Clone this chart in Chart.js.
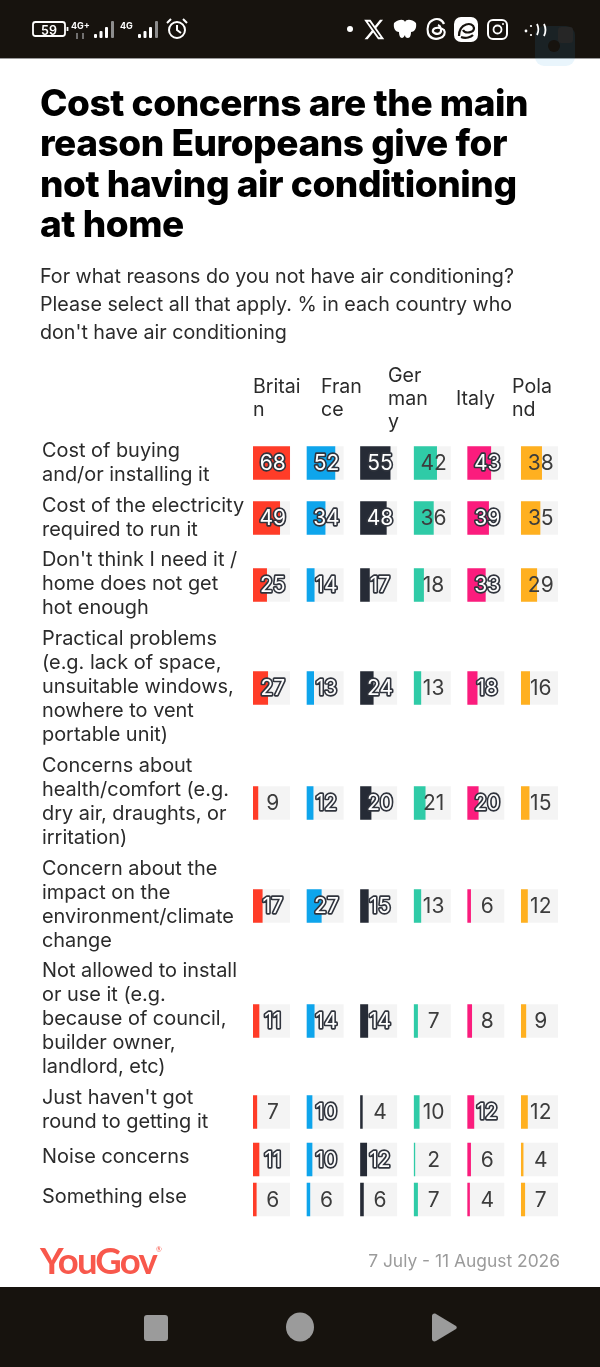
<!DOCTYPE html>
<html><head><meta charset="utf-8">
<script src="https://cdn.jsdelivr.net/npm/chart.js@4/dist/chart.umd.min.js"></script>
<style>
html,body{margin:0;padding:0;background:#fff;width:600px;height:1367px;overflow:hidden}
body{position:relative;font-family:Inter,sans-serif;color:#2b2b2b}
#c{position:absolute;left:0;top:0}
.abs{position:absolute}
#top{left:0;top:0;width:600px;height:58px;background:#17130e;border-bottom:1px solid #9a9a9a}
#bot{left:0;top:1287px;width:600px;height:80px;background:#17130e}
#title{left:40px;top:83px;width:550px;font:800 37px/40.3px Inter,sans-serif;color:#000;letter-spacing:-.45px;white-space:nowrap}
#sub{left:40px;top:262px;width:550px;font:400 19.7px/28px Inter,sans-serif;color:#2b2b2b;white-space:nowrap}
.hd{position:absolute;top:364px;height:68px;display:flex;flex-direction:column;justify-content:center;font:400 19.6px/23px Inter,sans-serif;color:#2b2b2b}
#logo{left:40px;top:1239px;font:700 36.5px/42px Lato,sans-serif;color:#f8584c;letter-spacing:-1.8px}
#logo sup{font:400 7px/7px Lato,sans-serif;vertical-align:22px;letter-spacing:0}
#date{right:40px;top:1250px;font:400 17.4px/22px Inter,sans-serif;color:#9b9b9b}
</style></head><body>
<div id="top" class="abs"></div>
<div id="bot" class="abs"></div>
<canvas id="c" width="600" height="1367" style="width:600px;height:1367px"></canvas>
<div id="title" class="abs">Cost concerns are the main<br>reason Europeans give for<br>not having air conditioning<br>at home</div>
<div id="sub" class="abs">For what reasons do you not have air conditioning?<br>Please select all that apply. % in each country who<br>don't have air conditioning</div>
<div id="heads"></div>
<div id="logo" class="abs">YouGov<sup>®</sup></div>
<div id="date" class="abs">7 July - 11 August 2026</div>
<svg class="abs" style="left:0;top:0" width="600" height="68" fill="none" stroke="#fff" stroke-width="1.8">
<rect x="535" y="26" width="40" height="40" rx="9" fill="#3aa0e0" opacity=".11" stroke="none"/>
<rect x="558" y="27" width="15" height="16" rx="3" fill="#262626" stroke="none"/>
<circle cx="554" cy="46" r="6" fill="#17130e" stroke="none"/>
<rect x="33" y="22" width="32" height="14" rx="2.5"/><path d="M67.5 27v4"/>
<text x="49" y="34.5" fill="#fff" stroke="none" font-family="Inter" font-size="12.5" font-weight="600" text-anchor="middle">59</text>
<text x="71" y="28.5" fill="#fff" stroke="none" font-family="Inter" font-size="9" font-weight="700">4G+</text>
<path d="M77 33v6M83 33v6" stroke="#888" stroke-width="1.6"/>
<text x="120" y="28.5" fill="#fff" stroke="none" font-family="Inter" font-size="9" font-weight="700">4G</text>
<g fill="#fff" stroke="none"><rect x="94" y="34" width="3" height="4" rx="1"/><rect x="99.5" y="31" width="3" height="7" rx="1"/><rect x="105" y="27" width="3" height="11" rx="1"/><rect x="111" y="21" width="3" height="17" rx="1" fill="#8d8d8d"/>
<rect x="138" y="34" width="3" height="4" rx="1"/><rect x="143.5" y="31" width="3" height="7" rx="1"/><rect x="149" y="27" width="3" height="11" rx="1"/><rect x="155" y="21" width="3" height="17" rx="1" fill="#8d8d8d"/></g>
<circle cx="177" cy="30" r="8" stroke-width="2"/><path d="M177 25v5l4 3M167 23l4-4M187 23l-4-4" stroke-width="2"/>
<circle cx="350" cy="29" r="3" fill="#fff" stroke="none"/>
<path transform="translate(363 17.5) scale(.93 1)" fill="#fff" stroke="none" d="M18.244 2.25h3.308l-7.227 8.26 8.502 11.24H16.17l-5.214-6.817L4.99 21.75H1.68l7.73-8.835L1.254 2.25H8.08l4.713 6.231zm-1.161 17.52h1.833L7.084 4.126H5.117z"/>
<path d="M394 23c5-4 10-4 11-1c1-3 7-3 11 1c1 6-2 9-5 9c0 3-1 6-3 6c-2 0-3-1-3-3c-1 2-2 3-3 3c-2 0-3-3-3-6c-3 0-6-3-5-9z" fill="#fff" stroke="none"/>
<path d="M444 24c-2-5-7-6-11-4c-5 2-6 8-5 13c1 5 7 7 12 5c4-1 6-5 4-8c-3-3-10-3-11 0c-1 3 4 5 7 3c2-2 1-7-2-8" stroke-width="2.2"/>
<rect x="454" y="17" width="24" height="25" rx="7" fill="#fff" stroke="none"/><path d="M459 36c0-13 14-15 15-8c0 5-9 6-11 2M461 37c5 2 10 0 12-2" stroke="#17130e" stroke-width="2.2"/>
<rect x="488" y="20" width="19" height="19" rx="5" stroke-width="2"/><circle cx="497.5" cy="29.5" r="4" stroke-width="1.8"/><circle cx="503" cy="24" r="1" fill="#fff" stroke="none"/>
<circle cx="526" cy="31" r="1.4" fill="#fff" stroke="none"/><circle cx="531" cy="26" r="1.1" fill="#fff" stroke="none"/><circle cx="531" cy="35" r="1.1" fill="#fff" stroke="none"/><path d="M537 24c2 4 2 7 0 11M544 24c2 4 2 8 0 12"/>
</svg>
<svg class="abs" style="left:0;top:1287px" width="600" height="80">
<rect x="144" y="28" width="24" height="26" rx="3" fill="#9b9b9b"/>
<ellipse cx="300" cy="40" rx="14" ry="14.5" fill="#9b9b9b"/>
<path d="M432 29c0-2 2-3 4-2l20 12c1 1 1 2 0 3l-20 12c-2 1-4 0-4-2z" fill="#9b9b9b"/>
</svg>
<script>
const rowLabels = [
  ['Cost of buying','and/or installing it'],
  ['Cost of the electricity','required to run it'],
  ["Don't think I need it /",'home does not get','hot enough'],
  ['Practical problems','(e.g. lack of space,','unsuitable windows,','nowhere to vent','portable unit)'],
  ['Concerns about','health/comfort (e.g.','dry air, draughts, or','irritation)'],
  ['Concern about the','impact on the','environment/climate','change'],
  ['Not allowed to install','or use it (e.g.','because of council,','builder owner,','landlord, etc)'],
  ["Just haven't got",'round to getting it'],
  ['Noise concerns'],
  ['Something else']
];
const headerLines = [['Britai','n'],['Fran','ce'],['Ger','man','y'],['Italy'],['Pola','nd']];
const headerLefts = [253,321,388,456,512];
const col1 = [68,49,25,27,9,17,11,7,11,6];
const col2 = [52,34,14,13,12,27,14,10,10,6];
const col3 = [55,48,17,24,20,15,14,4,12,6];
const col4 = [42,36,18,13,21,13,7,10,2,7];
const col5 = [43,39,33,18,20,6,8,12,6,4];
const col6 = [38,35,29,16,15,12,9,12,4,7];
const columns = [col1,col2,col3,col4,col5,col6];
const colours = ['#ff3c28','#0ea5ec','#262b36','#2fcba7','#fb1c7d','#ffb020'];
const outlinedFrom = [10,10,10,1000,10,1000];
const trackMax = 68;

headerLines.forEach((lines,i)=>{
  const d=document.createElement('div');d.className='hd';d.style.left=headerLefts[i]+'px';
  d.innerHTML=lines.map(l=>'<div>'+l+'</div>').join('');
  document.getElementById('heads').appendChild(d);
});

const Cat = Chart.registry.getScale('category');
class RowScale extends Cat {
  rowSizes(){ return rowLabels.map(l=>Math.max(40,24*l.length+7)); }
  getPixelForValue(value){
    if (typeof value !== 'number') value = this.parse(value);
    if (value === null || value === undefined) return NaN;
    const s=this.rowSizes(), total=s.reduce((a,b)=>a+b,0);
    let acc=0; for(let i=0;i<value;i++) acc+=s[i];
    return this.top+(acc+s[value]/2)*this.height/total;
  }
  getPixelForTick(index){ return this.getPixelForValue(index)-0.25*index; }
}
RowScale.id='rowCategory';
RowScale.defaults=Cat.defaults;
Chart.register(RowScale);

const scales={
  y:{type:'rowCategory',position:'left',stacked:true,labels:rowLabels,
     grid:{display:false},border:{display:false},
     afterFit:s=>{s.width=211},
     ticks:{autoSkip:false,crossAlign:'far',padding:0,color:'#2b2b2b',font:{family:'Inter',size:19.9,lineHeight:'24px'}}}
};
const datasets=[];
for(let c=columns.length-1;c>=0;c--){
  scales['x'+c]={type:'linear',display:false,position:'top',stack:'cols',stackWeight:37,min:0,max:trackMax,stacked:false};
  if(c>0) scales['gap'+c]={type:'linear',display:false,position:'top',stack:'cols',stackWeight:16.5,min:0,max:1};
}
columns.forEach((vals,c)=>{
  const id='x'+c;
  datasets.push({label:'Series '+(c+1),data:vals,xAxisID:id,yAxisID:'y',backgroundColor:colours[c],barThickness:33,order:1,stack:'s'});
  datasets.push({label:'Track '+(c+1),data:vals.map(()=>trackMax),xAxisID:id,yAxisID:'y',backgroundColor:'#f4f4f4',barThickness:33,order:2,stack:'s'});
});
const valueLabels={id:'valueLabels',afterDatasetsDraw(chart){
  const {ctx,scales:sc}=chart;
  ctx.save();ctx.textAlign='center';ctx.textBaseline='middle';ctx.lineJoin='round';
  ctx.font='400 21px Inter';
  columns.forEach((vals,c)=>{
    const xs=sc['x'+c];
    const x=xs.getPixelForValue(trackMax/2)+1.3;
    vals.forEach((v,r)=>{
      const y=sc.y.getPixelForValue(r)+1;
      if(v>=outlinedFrom[c]){
        ctx.lineWidth=3.3;ctx.strokeStyle='#30343d';ctx.strokeText(v,x,y);
        ctx.fillStyle='#fff';ctx.fillText(v,x,y);
      } else {ctx.fillStyle='#3c3c3c';ctx.fillText(v,x,y);}
    });
  });
  ctx.restore();
}};
new Chart(document.getElementById('c'),{type:'bar',data:{labels:rowLabels,datasets},
  options:{indexAxis:'y',responsive:false,animation:false,devicePixelRatio:1,events:[],
    layout:{padding:{left:42,right:42,top:435.5,bottom:147.5}},
    plugins:{legend:{display:false},tooltip:{enabled:false},title:{display:false}},
    scales},
  plugins:[valueLabels]});
</script>
</body></html>
